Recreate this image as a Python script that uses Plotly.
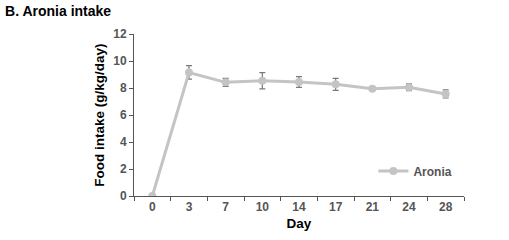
import plotly.graph_objects as go

days = ["0", "3", "7", "10", "14", "17", "21", "24", "28"]
intake = [0.0, 9.15, 8.42, 8.54, 8.44, 8.27, 7.95, 8.05, 7.56]
err = [0.0, 0.5, 0.3, 0.6, 0.4, 0.45, 0.12, 0.25, 0.3]
y_ticks = [0, 2, 4, 6, 8, 10, 12]

font = "Liberation Sans, Arial, sans-serif"

fig = go.Figure()
fig.add_trace(go.Scatter(
    x=days, y=intake, name="<b>Aronia</b>", mode="lines+markers",
    line=dict(color="#c4c4c4", width=3),
    marker=dict(color="#c4c4c4", size=8, symbol="circle"),
    error_y=dict(type="data", array=err, visible=True, color="#7a7a7a", thickness=1.2, width=3),
))

fig.update_layout(
    width=509, height=240,
    margin=dict(l=134, r=45, t=34, b=44),
    paper_bgcolor="white", plot_bgcolor="white",
    font=dict(family=font, color="#333333"),
    title=dict(text="<b>B. Aronia intake</b>", x=0.01, xanchor="left", y=0.955, yanchor="middle",
               font=dict(size=14, color="#000000", family=font)),
    showlegend=True,
    legend=dict(x=0.98, xanchor="right", y=0.155, yanchor="middle",
                bgcolor="rgba(0,0,0,0)", font=dict(size=12, color="#555555", family=font),
                itemwidth=30, tracegroupgap=0),
)

fig.update_xaxes(
    type="category", tickson="boundaries", ticks="outside", ticklen=4, tickcolor="#555555",
    showline=True, linecolor="#555555", linewidth=1, showgrid=False, zeroline=False,
    tickvals=days, ticktext=[f"<b>{d}</b>" for d in days],
    tickfont=dict(size=12, color="#555555", family=font),
    title=dict(text="<b>Day</b>", font=dict(size=13.5, color="#000000", family=font), standoff=5),
    range=[-0.5, len(days) - 0.5],
)
fig.update_yaxes(
    range=[0, 12], tickvals=y_ticks, ticktext=[f"<b>{v}</b>" for v in y_ticks],
    ticks="outside", ticklen=4, tickcolor="#555555",
    showline=True, linecolor="#555555", linewidth=1, showgrid=False, zeroline=False,
    tickfont=dict(size=12, color="#555555", family=font),
    title=dict(text="<b>Food intake (g/kg/day)</b>", font=dict(size=13.5, color="#000000", family=font), standoff=5),
)

fig.write_html("out.html")
